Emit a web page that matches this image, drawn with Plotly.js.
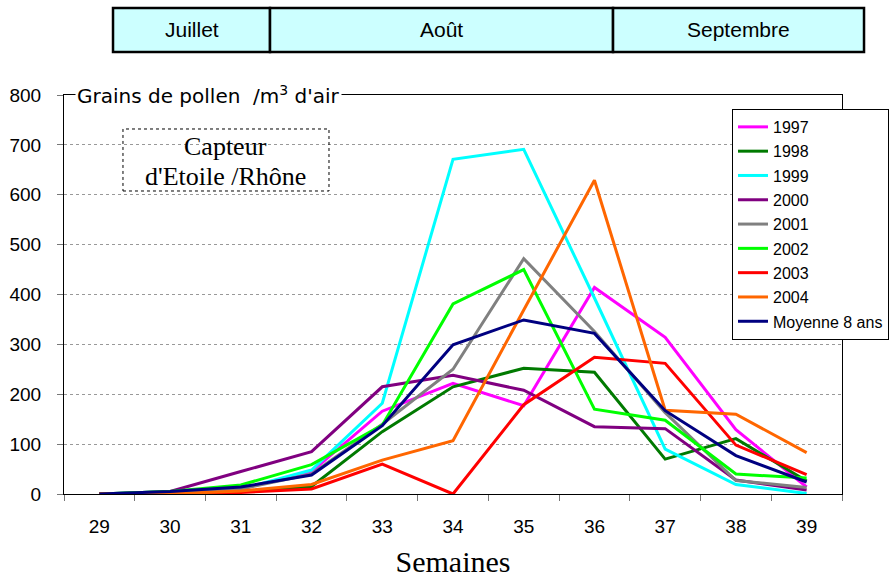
<!DOCTYPE html>
<html>
<head>
<meta charset="utf-8">
<script src="https://cdn.plot.ly/plotly-3.0.1.min.js"></script>
<style>html,body{margin:0;padding:0;background:#fff;}#chart{width:892px;height:578px;}</style>
</head>
<body>
<div id="chart"></div>
<script>
const weeks = ['29','30','31','32','33','34','35','36','37','38','39'];
const seriesNames = ['1997','1998','1999','2000','2001','2002','2003','2004','Moyenne 8 ans'];
const v1997 = [0, 3, 10, 45, 166, 222, 177, 414, 314, 129, 14];
const v1998 = [0, 1, 5, 15, 125, 215, 252, 244, 70, 111, 26];
const v1999 = [0, 5, 10, 48, 182, 671, 691, 393, 90, 19, 1];
const v2000 = [0, 5, 45, 85, 215, 238, 208, 135, 131, 28, 8];
const v2001 = [0, 3, 10, 40, 140, 250, 472, 326, 163, 27, 13];
const v2002 = [0, 5, 18, 59, 138, 381, 450, 170, 148, 40, 32];
const v2003 = [0, 0, 3, 10, 60, 0, 179, 274, 262, 98, 39];
const v2004 = [0, 0, 6, 19, 68, 107, 369, 629, 168, 160, 83];
const vMoy  = [0, 5, 14, 38, 137, 299, 349, 322, 167, 77, 24];
const months = ['Juillet', 'Août', 'Septembre'];
const colors = ['#ff00ff', '#007a00', '#00ffff', '#800080', '#808080', '#00ff00', '#ff0000', '#ff6600', '#000080'];

const allValues = [v1997, v1998, v1999, v2000, v2001, v2002, v2003, v2004, vMoy];
const traces = allValues.map((vals, i) => ({
  type: 'scatter', mode: 'lines', x: weeks, y: vals, name: seriesNames[i],
  line: {color: colors[i], width: 3}, legendgroup: 'g' + i
}));

// month boxes (paper coords)
const monthEdges = [0.063, 0.2648, 0.7057, 1.0283];
const shapes = [];
const annotations = [];
for (let i = 0; i < months.length; i++) {
  shapes.push({type: 'rect', xref: 'paper', yref: 'paper', x0: monthEdges[i], x1: monthEdges[i+1],
    y0: 1.1078, y1: 1.218, fillcolor: '#ccffff', line: {color: '#000', width: 2.5}});
  annotations.push({xref: 'paper', yref: 'paper', x: (monthEdges[i] + monthEdges[i+1]) / 2, y: 1.163,
    text: months[i], showarrow: false, xanchor: 'center', yanchor: 'middle',
    font: {family: 'Liberation Sans, Arial', size: 21, color: '#000'}});
}
// Capteur box
shapes.push({type: 'rect', xref: 'paper', yref: 'paper', x0: 0.0758, x1: 0.3406, y0: 0.7594, y1: 0.9148,
  fillcolor: 'rgba(0,0,0,0)', line: {color: '#000', width: 1, dash: 'dot'}});
annotations.push({xref: 'paper', yref: 'paper', x: 0.2082, y: 0.870, text: 'Capteur',
  showarrow: false, xanchor: 'center', yanchor: 'middle',
  font: {family: 'Liberation Serif, Times New Roman', size: 26, color: '#000'}});
annotations.push({xref: 'paper', yref: 'paper', x: 0.2082, y: 0.795, text: 'd\'Etoile /Rhône',
  showarrow: false, xanchor: 'center', yanchor: 'middle',
  font: {family: 'Liberation Serif, Times New Roman', size: 26, color: '#000'}});
// y title on top border
annotations.push({xref: 'paper', yref: 'paper', x: 0.0141, y: 1.0, text: 'Grains de pollen  /m<sup>3</sup> d\'air',
  showarrow: false, xanchor: 'left', yanchor: 'middle', bgcolor: '#ffffff', borderpad: 1,
  font: {family: 'DejaVu Sans', size: 20, color: '#000'}});

const layout = {
  width: 892, height: 578,
  margin: {l: 64, r: 50, t: 95, b: 84, autoexpand: false},
  paper_bgcolor: '#fff', plot_bgcolor: '#fff',
  showlegend: true,
  legend: {x: 0.8586, y: 0.965, xanchor: 'left', yanchor: 'top', bgcolor: '#fff',
    bordercolor: '#000', borderwidth: 1, traceorder: 'grouped', tracegroupgap: 0.5,
    font: {family: 'Liberation Sans, Arial', size: 16, color: '#000'}},
  xaxis: {type: 'category', range: [-0.5, 10.5], showline: true, linecolor: '#000', linewidth: 1, mirror: true,
    ticks: 'outside', tickson: 'boundaries', ticklen: 6, tickcolor: '#777', showgrid: false, zeroline: false,
    ticklabelstandoff: 15, automargin: false,
    tickfont: {family: 'Liberation Sans, Arial', size: 19, color: '#000'},
    title: {text: 'Semaines', standoff: 16, font: {family: 'Liberation Serif, Times New Roman', size: 30, color: '#000'}}},
  yaxis: {range: [0, 800], dtick: 100, showline: true, linecolor: '#000', linewidth: 1, mirror: true,
    ticks: 'outside', ticklen: 6, tickcolor: '#777', showgrid: true, gridcolor: '#999', griddash: 'dot', gridwidth: 1,
    zeroline: false, ticklabelstandoff: 12, automargin: false,
    tickfont: {family: 'Liberation Sans, Arial', size: 19, color: '#000'}},
  shapes: shapes, annotations: annotations
};
Plotly.newPlot('chart', traces, layout, {displayModeBar: false, staticPlot: true});
</script>
</body>
</html>
